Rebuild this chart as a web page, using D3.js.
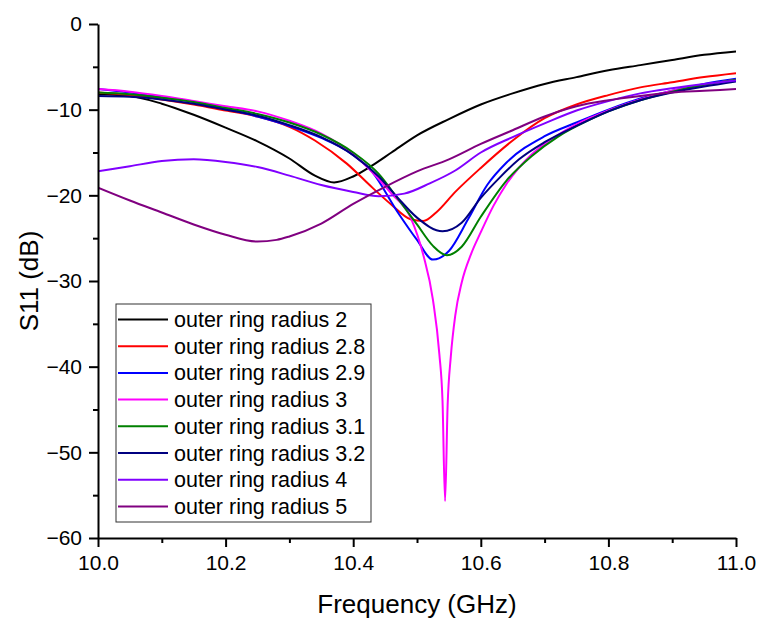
<!DOCTYPE html>
<html>
<head>
<meta charset="utf-8">
<script src="https://cdn.jsdelivr.net/npm/d3@7"></script>
<style>
    body { margin: 0; background: #fff; }
    svg text { font-family: "Liberation Sans", Arial, sans-serif; fill: #000; }
    .line { fill: none; stroke-width: 2; stroke-linejoin: round; }
</style>
</head>
<body>
<div class="chart"></div>
<script>
// S11 curves, one frequency list per series (GHz, dB)
const r2Freq = [10.0, 10.05, 10.1, 10.15, 10.2, 10.25, 10.3, 10.34, 10.37, 10.4, 10.43, 10.46, 10.5, 10.55, 10.6, 10.65, 10.7, 10.75, 10.8, 10.85, 10.9, 10.95, 11.0];
const r2S11 = [-8.2, -8.4, -9.3, -10.6, -12.1, -13.7, -15.7, -17.7, -18.5, -17.8, -16.5, -15.0, -13.0, -11.1, -9.4, -8.1, -7.0, -6.2, -5.4, -4.8, -4.2, -3.6, -3.2];

const r28Freq = [10.0, 10.05, 10.1, 10.15, 10.2, 10.25, 10.3, 10.34, 10.39, 10.43, 10.46, 10.49, 10.51, 10.53, 10.56, 10.6, 10.65, 10.7, 10.75, 10.8, 10.85, 10.9, 10.95, 11.0];
const r28S11 = [-8.0, -8.3, -8.8, -9.4, -10.1, -10.8, -12.0, -13.6, -16.3, -19.1, -21.1, -22.8, -23.0, -22.0, -19.6, -16.8, -13.6, -11.0, -9.4, -8.3, -7.4, -6.8, -6.2, -5.75];

const r29Freq = [10.0, 10.05, 10.1, 10.15, 10.2, 10.25, 10.3, 10.35, 10.39, 10.43, 10.47, 10.5, 10.525, 10.55, 10.58, 10.61, 10.64, 10.7, 10.75, 10.8, 10.85, 10.9, 10.95, 11.0];
const r29S11 = [-7.6, -8.0, -8.5, -9.1, -9.9, -10.8, -11.9, -13.3, -14.8, -17.3, -22.0, -25.2, -27.5, -26.5, -22.8, -18.8, -16.2, -13.1, -11.5, -10.0, -8.7, -7.8, -7.0, -6.4];

const r3Freq = [10.0, 10.05, 10.1, 10.15, 10.2, 10.25, 10.3, 10.35, 10.4, 10.43, 10.46, 10.49, 10.51, 10.525, 10.535, 10.54, 10.544, 10.548, 10.553, 10.56, 10.57, 10.585, 10.6, 10.62, 10.64, 10.68, 10.72, 10.77, 10.8, 10.85, 10.9, 10.95, 11.0];
const r3S11 = [-7.6, -7.9, -8.4, -9.0, -9.6, -10.2, -11.3, -12.8, -15.2, -17.3, -19.8, -22.6, -27.0, -32.2, -38.5, -44.0, -55.7, -44.5, -38.8, -34.0, -30.2, -26.8, -24.3, -21.2, -18.7, -15.2, -13.0, -11.0, -10.1, -8.8, -7.8, -7.1, -6.5];

const r31Freq = [10.0, 10.05, 10.1, 10.15, 10.2, 10.25, 10.3, 10.35, 10.4, 10.44, 10.47, 10.5, 10.525, 10.547, 10.57, 10.6, 10.64, 10.68, 10.72, 10.77, 10.8, 10.85, 10.9, 10.95, 11.0];
const r31S11 = [-8.0, -8.2, -8.6, -9.1, -9.8, -10.5, -11.5, -12.9, -15.0, -17.5, -20.4, -23.4, -25.9, -27.0, -26.0, -22.5, -18.3, -15.4, -13.2, -11.2, -10.2, -8.9, -7.9, -7.1, -6.5];

const r32Freq = [10.0, 10.05, 10.1, 10.15, 10.2, 10.25, 10.3, 10.35, 10.4, 10.44, 10.47, 10.5, 10.54, 10.57, 10.6, 10.63, 10.66, 10.7, 10.75, 10.8, 10.85, 10.9, 10.95, 11.0];
const r32S11 = [-8.4, -8.5, -8.8, -9.3, -10.0, -10.7, -11.8, -13.2, -15.3, -17.8, -20.3, -22.6, -24.2, -23.2, -20.3, -17.9, -15.8, -13.8, -11.9, -10.2, -8.9, -8.0, -7.3, -6.7];

const r4Freq = [10.0, 10.05, 10.1, 10.15, 10.2, 10.25, 10.3, 10.35, 10.4, 10.44, 10.48, 10.52, 10.56, 10.6, 10.65, 10.7, 10.75, 10.8, 10.85, 10.9, 10.95, 11.0];
const r4S11 = [-17.2, -16.6, -16.0, -15.8, -16.1, -16.7, -17.7, -18.8, -19.6, -20.1, -19.8, -18.6, -17.1, -15.0, -13.2, -11.6, -10.1, -9.0, -8.1, -7.5, -7.0, -6.6];

const r5Freq = [10.0, 10.05, 10.1, 10.15, 10.2, 10.25, 10.28, 10.3, 10.35, 10.4, 10.45, 10.5, 10.55, 10.6, 10.65, 10.7, 10.75, 10.8, 10.85, 10.9, 10.95, 11.0];
const r5S11 = [-19.1, -20.6, -22.0, -23.4, -24.6, -25.4, -25.2, -24.8, -23.3, -21.0, -19.0, -17.2, -15.8, -14.0, -12.4, -10.8, -9.6, -8.9, -8.4, -8.0, -7.8, -7.6];

const seriesNames = ["outer ring radius 2", "outer ring radius 2.8", "outer ring radius 2.9", "outer ring radius 3",
    "outer ring radius 3.1", "outer ring radius 3.2", "outer ring radius 4", "outer ring radius 5"];
const seriesColors = ["#000000", "#ff0000", "#0000ff", "#ff00ff", "#008000", "#000080", "#8000ff", "#800080"];
const seriesFreq = [r2Freq, r28Freq, r29Freq, r3Freq, r31Freq, r32Freq, r4Freq, r5Freq];
const seriesS11 = [r2S11, r28S11, r29S11, r3S11, r31S11, r32S11, r4S11, r5S11];

const xTicks = [10.0, 10.2, 10.4, 10.6, 10.8, 11.0];
const yTicks = [0, -10, -20, -30, -40, -50, -60];

const width = 759, height = 619;
const margin = { top: 24, right: 23, bottom: 81, left: 98 };
const chartWidth = width - margin.left - margin.right;
const chartHeight = height - margin.top - margin.bottom;

const svg = d3.select(".chart").append("svg")
    .attr("width", width)
    .attr("height", height);

const g = svg.append("g")
    .attr("transform", `translate(${margin.left}, ${margin.top})`);

const xScale = d3.scaleLinear().domain([10.0, 11.0]).range([0, chartWidth]);
const yScale = d3.scaleLinear().domain([-60, 0]).range([chartHeight, 0]);

g.append("clipPath").attr("id", "plot-clip")
    .append("rect")
    .attr("x", 0).attr("y", -2)
    .attr("width", chartWidth).attr("height", chartHeight + 2);

// curves
const line = d3.line()
    .x(d => xScale(d[0]))
    .y(d => yScale(d[1]))
    .curve(d3.curveMonotoneX);

const plot = g.append("g").attr("clip-path", "url(#plot-clip)");
seriesNames.forEach((name, i) => {
    const pts = seriesFreq[i].map((f, j) => [f, seriesS11[i][j]]);
    plot.append("path")
        .datum(pts)
        .attr("class", "line")
        .attr("stroke", seriesColors[i])
        .attr("d", line);
});

// minor ticks first, majors on top
const xMinor = d3.range(10.1, 11.0, 0.2);
const yMinor = d3.range(-55, 0, 10);

g.append("g")
    .attr("transform", `translate(0, ${chartHeight})`)
    .call(d3.axisBottom(xScale).tickValues(xMinor).tickSize(5).tickFormat(""))
    .call(a => a.select(".domain").remove())
    .selectAll("line").attr("stroke-width", 2);

g.append("g")
    .call(d3.axisLeft(yScale).tickValues(yMinor).tickSize(5).tickFormat(""))
    .call(a => a.select(".domain").remove())
    .selectAll("line").attr("stroke-width", 2);

const xAxis = g.append("g")
    .attr("class", "x axis")
    .attr("transform", `translate(0, ${chartHeight})`)
    .call(d3.axisBottom(xScale).tickValues(xTicks).tickSize(9).tickSizeOuter(0).tickPadding(8).tickFormat(d3.format(".1f")));

const yAxis = g.append("g")
    .attr("class", "y axis")
    .call(d3.axisLeft(yScale).tickValues(yTicks).tickSize(9).tickSizeOuter(0).tickPadding(7).tickFormat(d => d === 0 ? "0" : "\u2212" + Math.abs(d)));

[xAxis, yAxis].forEach(a => {
    a.select(".domain").attr("stroke-width", 2);
    a.selectAll(".tick line").attr("stroke-width", 2);
    a.selectAll(".tick text").style("font-size", "21px").attr("fill", "#000");
});

// axis titles
svg.append("text")
    .attr("x", margin.left + chartWidth / 2)
    .attr("y", 613)
    .attr("text-anchor", "middle")
    .style("font-size", "26px")
    .text("Frequency (GHz)");

svg.append("text")
    .attr("transform", `translate(38, ${margin.top + chartHeight / 2}) rotate(-90)`)
    .attr("text-anchor", "middle")
    .style("font-size", "26px")
    .text("S11 (dB)");

// legend
const legend = svg.append("g").attr("transform", "translate(116, 304)");
legend.append("rect")
    .attr("width", 255).attr("height", 218)
    .attr("fill", "#fff")
    .attr("stroke", "#333")
    .attr("stroke-width", 1);

seriesNames.forEach((name, i) => {
    const y = 15.5 + i * 26.7;
    legend.append("line")
        .attr("x1", 2).attr("x2", 52)
        .attr("y1", y).attr("y2", y)
        .attr("stroke", seriesColors[i])
        .attr("stroke-width", 2);
    legend.append("text")
        .attr("x", 58).attr("y", y)
        .attr("dy", "0.35em")
        .style("font-size", "21.5px")
        .text(name);
});
</script>
</body>
</html>
